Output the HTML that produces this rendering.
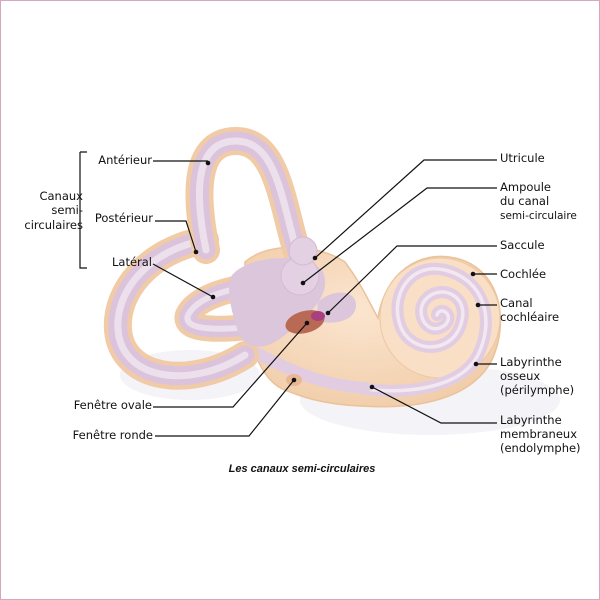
<!DOCTYPE html>
<html><head><meta charset="utf-8">
<style>
html,body{margin:0;padding:0;background:#fff}
#w{position:relative;width:598px;height:598px;border:1px solid #d4a8c0;overflow:hidden}
svg{position:absolute;left:0;top:0}
text{font-family:"DejaVu Sans","Liberation Sans",sans-serif;font-size:11.5px;fill:#111}
</style></head><body><div id="w">
<svg width="598" height="598" viewBox="1 1 598 598">
<defs>
<radialGradient id="tan" cx="0.45" cy="0.4" r="0.7"><stop offset="0" stop-color="#fbe5cf"/><stop offset="1" stop-color="#f0cba6"/></radialGradient>
</defs>
<!-- shadows -->
<ellipse cx="430" cy="400" rx="130" ry="35" fill="#f4f3f7"/>
<ellipse cx="190" cy="375" rx="70" ry="25" fill="#f4f3f7"/>
<!-- cochlea + vestibule body -->
<path d="M245,262 C270,240 320,245 345,262 C362,285 368,300 378,318 C385,272 420,250 455,258 C500,268 510,320 492,360 C472,398 420,410 360,406 C320,404 300,396 285,390 C262,382 250,345 245,320 Z" fill="url(#tan)" stroke="#ebc29a" stroke-width="1.5"/>
<circle cx="440" cy="318" r="60" fill="#f8dfc5" stroke="#edc7a0" stroke-width="1"/>
<!-- cochlear spiral -->
<path d="M360,388 C400,395 460,390 478,355 C495,320 485,280 445,270 C410,262 390,295 400,325 C410,355 455,355 462,320 C468,295 440,283 425,300 C414,314 428,338 445,325 C455,315 440,305 437,315" fill="none" stroke="#e2cce2" stroke-width="12" stroke-linecap="round"/>
<path d="M360,388 C400,395 460,390 478,355 C495,320 485,280 445,270 C410,262 390,295 400,325 C410,355 455,355 462,320 C468,295 440,283 425,300 C414,314 428,338 445,325 C455,315 440,305 437,315" fill="none" stroke="#f2e8f2" stroke-width="3.5" stroke-linecap="round"/>
<path d="M250,350 C290,370 320,385 365,388" fill="none" stroke="#e2cce2" stroke-width="12" stroke-linecap="round"/>
<!-- large posterior loop -->
<g fill="none" stroke-linecap="round">
<path d="M205,240 C150,250 115,290 118,330 C122,380 190,390 245,355" stroke="#f0cba6" stroke-width="28"/>
<path d="M205,240 C150,250 115,290 118,330 C122,380 190,390 245,355" stroke="#dcc3dc" stroke-width="19"/>
<path d="M205,240 C150,250 115,290 118,330 C122,380 190,390 245,355" stroke="#ece0ed" stroke-width="7"/>
<!-- anterior loop -->
<path d="M206,250 C196,200 192,142 235,141 C278,140 282,205 298,255" stroke="#f0cba6" stroke-width="28"/>
<path d="M206,250 C196,200 192,142 235,141 C278,140 282,205 298,255" stroke="#dcc3dc" stroke-width="19"/>
<path d="M206,250 C196,200 192,142 235,141 C278,140 282,205 298,255" stroke="#ece0ed" stroke-width="7"/>
<!-- lateral loop -->
<path d="M295,283 C250,283 200,292 188,315 C182,332 225,330 258,326" stroke="#f0cba6" stroke-width="26"/>
<path d="M295,283 C250,283 200,292 188,315 C182,332 225,330 258,326" stroke="#dcc3dc" stroke-width="17"/>
<path d="M295,283 C250,283 200,292 188,315 C182,332 225,330 258,326" stroke="#ece0ed" stroke-width="6"/>
</g>
<!-- vestibule -->
<path d="M232,275 C250,255 300,252 322,270 C335,295 305,318 285,335 C265,352 245,350 238,332 C232,312 225,290 232,275 Z" fill="#dcc6dc"/>
<circle cx="300" cy="276" r="19" fill="#e3d0e3" stroke="#d4bad4"/>
<circle cx="303" cy="251" r="14" fill="#e3d0e3" stroke="#d4bad4"/>
<path d="M318,302 C333,288 356,290 356,305 C356,322 330,326 316,320 Z" fill="#dcc6dc"/>
<ellipse cx="305" cy="322" rx="20" ry="11" fill="#b86a55" transform="rotate(-15 305 322)"/>
<ellipse cx="318" cy="316" rx="7" ry="5" fill="#a8407f"/>
<ellipse cx="294" cy="380" rx="8" ry="6" fill="#e8b896"/>
<!-- leader lines -->
<g stroke="#111" stroke-width="1.2" fill="none">
<path d="M80,152 H87 M80,152 V268 H87"/>
<path d="M153,161 H208"/>
<path d="M155,221 H186 L196,252"/>
<path d="M153,264 L213,297"/>
<path d="M497,160 H424 L315,258"/>
<path d="M497,188 H427 L303,283"/>
<path d="M497,246 H397 L328,313"/>
<path d="M497,274 H473"/>
<path d="M497,305 H478"/>
<path d="M497,364 H476"/>
<path d="M497,423 H441 L372,387"/>
<path d="M153,407 H233 L307,323"/>
<path d="M155,436 H249 L294,380"/>
</g>
<g fill="#111">
<circle cx="208" cy="163" r="2.3"/><circle cx="196" cy="252" r="2.3"/><circle cx="213" cy="297" r="2.3"/>
<circle cx="315" cy="258" r="2.3"/><circle cx="303" cy="283" r="2.3"/><circle cx="328" cy="313" r="2.3"/>
<circle cx="473" cy="274" r="2.3"/><circle cx="478" cy="305" r="2.3"/><circle cx="476" cy="364" r="2.3"/>
<circle cx="372" cy="387" r="2.3"/><circle cx="307" cy="323" r="2.3"/><circle cx="294" cy="380" r="2.3"/>
</g>
<g text-anchor="end">
<text x="83" y="200">Canaux</text><text x="83" y="214">semi-</text><text x="83" y="229">circulaires</text>
<text x="152" y="164">Antérieur</text>
<text x="153" y="222">Postérieur</text>
<text x="152" y="266">Latéral</text>
<text x="152" y="409">Fenêtre ovale</text>
<text x="153" y="439">Fenêtre ronde</text>
</g>
<text x="500" y="162">Utricule</text>
<text x="500" y="191">Ampoule</text><text x="500" y="205">du canal</text><text x="500" y="219" style="font-size:10.5px">semi-circulaire</text>
<text x="500" y="249">Saccule</text>
<text x="500" y="278">Cochlée</text>
<text x="500" y="307">Canal</text><text x="500" y="321">cochléaire</text>
<text x="500" y="366">Labyrinthe</text><text x="500" y="380">osseux</text><text x="500" y="394">(périlymphe)</text>
<text x="500" y="424">Labyrinthe</text><text x="500" y="438">membraneux</text><text x="500" y="452">(endolymphe)</text>
<text x="302" y="472" text-anchor="middle" style="font-family:'Liberation Sans',sans-serif;font-weight:bold;font-style:italic;font-size:11px">Les canaux semi-circulaires</text>
</svg>
</div></body></html>
